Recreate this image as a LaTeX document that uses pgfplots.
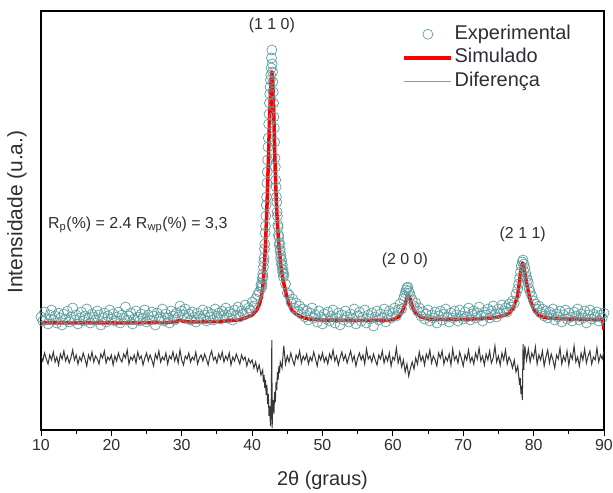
\documentclass[border=0pt]{standalone}
\usepackage{pgfplots}
\pgfplotsset{compat=1.18}
\usepackage{fontspec}
\setmainfont{Liberation Sans}
\definecolor{expc}{RGB}{95,158,160}
\definecolor{diffc}{RGB}{55,55,55}
\definecolor{diffleg}{RGB}{150,150,150}
\definecolor{txtc}{RGB}{45,45,55}
\begin{document}
\begin{tikzpicture}
\begin{axis}[
  at={(0,0)}, anchor=south west,
  scale only axis, width=563bp, height=419bp,
  xmin=10, xmax=90, ymin=0, ymax=419,
  xtick={10,20,...,90}, minor xtick={15,25,...,85},
  ytick=\empty,
  xtick pos=bottom, tick align=outside,
  major tick length=6bp, minor tick length=4bp,
  every tick/.style={black, line width=0.9bp},
  axis line style={line width=1.1bp},
  /pgf/number format/assume math mode=true,
  ticklabel style={font=\fontsize{16}{18}\selectfont, text=txtc},
  every axis x label/.style={at={(axis description cs:0.5,0)}, yshift=-50bp, anchor=center, font=\fontsize{20}{22}\selectfont, text=txtc},
  every axis y label/.style={at={(axis description cs:0,0.52)}, xshift=-24bp, rotate=90, anchor=center, font=\fontsize{21}{23}\selectfont, text=txtc},
  xlabel={2θ (graus)},
  ylabel={Intensidade (u.a.)},
  legend cell align=left,
  legend style={draw=none, fill=none, at={(axis description cs:0.642,0.970)}, anchor=north west,
    font=\fontsize{20}{22}\selectfont, text=txtc, inner sep=0pt, row sep=2.5bp,
    nodes={inner sep=1.5bp, text height=14bp, text depth=4bp}},
  legend image code/.code={\draw[mark repeat=2,mark phase=2,#1] plot coordinates {(0bp,0bp) (23.5bp,0bp) (47bp,0bp)};},
]
\addplot[only marks, mark=o, mark size=5bp, mark options={draw=expc, line width=0.7bp}] table {
x y
10.00 113
10.25 109
10.50 118
10.75 111
11.00 106
11.25 115
11.50 120
11.75 110
12.00 114
12.25 107
12.50 117
12.75 112
13.00 105
13.25 116
13.50 111
13.75 119
14.00 108
14.25 113
14.50 122
14.75 110
15.00 115
15.25 106
15.50 112
15.75 118
16.00 109
16.25 114
16.50 121
16.75 111
17.00 107
17.25 116
17.50 113
17.75 110
18.00 119
18.25 115
18.50 105
18.75 112
19.00 117
19.25 108
19.50 114
19.75 120
20.00 111
20.25 116
20.50 109
20.75 113
21.00 118
21.25 107
21.50 115
21.75 112
22.00 123
22.25 110
22.50 114
22.75 117
23.00 106
23.25 111
23.50 119
23.75 113
24.00 109
24.25 116
24.50 112
24.75 120
25.00 108
25.25 115
25.50 110
25.75 118
26.00 114
26.25 105
26.50 117
26.75 111
27.00 113
27.25 121
27.50 109
27.75 116
28.00 112
28.25 107
28.50 119
28.75 114
29.00 110
29.25 117
29.50 113
29.75 124
30.00 119
30.25 115
30.50 121
30.75 112
31.00 116
31.25 110
31.50 118
31.75 113
32.00 108
32.25 117
32.50 114
32.75 111
33.00 120
33.25 115
33.50 109
33.75 118
34.00 113
34.25 116
34.50 110
34.75 121
35.00 114
35.25 117
35.50 111
35.75 119
36.00 115
36.25 122
36.50 112
36.75 118
37.00 116
37.25 110
37.50 120
37.75 115
38.00 123
38.25 113
38.50 119
38.75 116
39.00 125
39.25 117
39.50 122
39.75 120
40.00 128
40.25 124
40.50 131
40.75 135
41.00 138
41.25 145
41.30 142
41.35 147
41.40 144
41.45 152
41.50 156
41.55 153
41.60 163
41.65 168
41.70 172
41.75 181
41.80 186
41.85 197
41.90 204
41.95 214
42.00 225
42.05 233
42.10 247
42.15 258
42.20 270
42.25 283
42.30 292
42.35 306
42.40 316
42.45 327
42.50 336
42.55 343
42.60 350
42.65 355
42.70 362
42.75 372
42.80 380
42.85 366
42.90 358
42.95 348
43.00 338
43.05 327
43.10 313
43.15 302
43.20 288
43.25 272
43.30 263
43.35 250
43.40 243
43.45 233
43.50 228
43.55 218
43.60 214
43.65 205
43.70 203
43.75 195
43.80 193
43.85 185
43.90 187
43.95 179
44.00 181
44.05 172
44.10 175
44.15 166
44.20 170
44.25 161
44.30 165
44.35 157
44.40 160
44.45 153
44.50 156
44.75 146
45.00 137
45.25 135
45.50 128
45.75 131
46.00 122
46.25 127
46.50 119
46.75 124
47.00 116
47.25 121
47.50 113
47.75 119
48.00 110
48.25 117
48.50 122
48.75 112
49.00 115
49.25 108
49.50 119
49.75 113
50.00 106
50.25 116
50.50 111
50.75 118
51.00 109
51.25 114
51.50 120
51.75 107
52.00 112
52.25 117
52.50 105
52.75 115
53.00 110
53.25 119
53.50 113
53.75 108
54.00 116
54.25 111
54.50 121
54.75 106
55.00 114
55.25 118
55.50 109
55.75 113
56.00 120
56.25 107
56.50 115
56.75 111
57.00 117
57.25 104
57.50 113
57.75 119
58.00 110
58.25 116
58.50 112
58.75 121
59.00 108
59.25 115
59.50 119
59.75 112
60.00 117
60.25 122
60.50 114
60.75 120
61.00 126
61.25 121
61.50 131
61.625 134
61.75 137
61.875 140
62.00 142
62.125 143
62.25 139
62.375 137
62.50 134
62.75 130
63.00 124
63.25 127
63.50 119
63.75 122
64.00 114
64.25 118
64.50 111
64.75 116
65.00 120
65.25 109
65.50 115
65.75 112
66.00 118
66.25 107
66.50 114
66.75 119
67.00 110
67.25 116
67.50 121
67.75 113
68.00 108
68.25 117
68.50 112
68.75 119
69.00 115
69.25 109
69.50 120
69.75 114
70.00 111
70.25 118
70.50 113
70.75 122
71.00 110
71.25 116
71.50 119
71.75 112
72.00 117
72.25 123
72.50 114
72.75 109
73.00 118
73.25 115
73.50 121
73.75 112
74.00 119
74.25 124
74.50 116
74.75 113
75.00 121
75.25 117
75.50 125
75.75 119
76.00 122
76.25 118
76.50 126
76.75 123
77.00 129
77.25 127
77.50 136
77.75 141
77.875 146
78.00 152
78.125 158
78.25 164
78.375 168
78.50 170
78.625 166
78.75 162
78.875 157
79.00 153
79.125 150
79.25 147
79.375 141
79.50 138
79.75 134
80.00 129
80.25 126
80.50 121
80.75 124
81.00 117
81.25 121
81.50 114
81.75 119
82.00 112
82.25 118
82.50 115
82.75 121
83.00 110
83.25 116
83.50 113
83.75 119
84.00 108
84.25 115
84.50 120
84.75 111
85.00 117
85.25 113
85.50 109
85.75 118
86.00 114
86.25 121
86.50 110
86.75 116
87.00 112
87.25 119
87.50 107
87.75 115
88.00 120
88.25 111
88.50 116
88.75 113
89.00 118
89.25 109
89.50 115
89.75 112
90.00 117
};
\addlegendentry{Experimental}
\addplot[red, line width=3.5bp, line join=round] table {
x y
10 107
20 107
28 107.5
29.3 108.5
29.8 110
30.3 108.5
31 108
34 108.3
36 108.8
38 110
39 112
40 115
40.65 120
41.0 125
41.3 133
41.5 142
41.7 160
41.9 185
42.1 222
42.3 267
42.45 305
42.6 335
42.7 350
42.8 358
42.9 352
43.0 335
43.1 310
43.25 267
43.4 235
43.6 205
43.8 185
44.1 163
44.4 150
44.8 137
45.2 127
45.6 120
46.2 116
47 113
48 111
50 110
55 109.5
59 109.5
60 110.5
60.8 113
61.3 118
61.7 125
62.0 132
62.2 135
62.45 131
62.7 125
63.0 120
63.4 116
64 113
65 111
66 110.5
70 110.5
74 112
75 113
76 115
76.5 117
77 121
77.4 127
77.7 134
77.95 146
78.15 158
78.4 167
78.6 163
78.8 155
79.0 147
79.2 140
79.4 133
79.7 126
80.0 121
80.5 116
81 113.5
82 112
85 111
89.8 110.5
90 100
};
\addlegendentry{Simulado}
\addplot[diffc, line width=1bp, forget plot] table {
x y
10.00 74
10.25 69
10.50 77
10.75 71
11.00 66
11.25 75
11.50 70
11.75 78
12.00 68
12.25 73
12.50 65
12.75 76
13.00 71
13.25 79
13.50 69
13.75 74
14.00 67
14.25 72
14.50 80
14.75 70
15.00 75
15.25 66
15.50 73
15.75 69
16.00 77
16.25 71
16.50 64
16.75 75
17.00 70
17.25 78
17.50 68
17.75 74
18.00 71
18.25 66
18.50 76
18.75 72
19.00 79
19.25 67
19.50 73
19.75 70
20.00 75
20.25 65
20.50 74
20.75 69
21.00 77
21.25 71
21.50 68
21.75 76
22.00 72
22.25 80
22.50 66
22.75 73
23.00 70
23.25 75
23.50 67
23.75 78
24.00 71
24.25 74
24.50 65
24.75 72
25.00 77
25.25 69
25.50 75
25.75 70
26.00 64
26.25 76
26.50 71
26.75 79
27.00 68
27.25 73
27.50 70
27.75 77
28.00 66
28.25 74
28.50 71
28.75 78
29.00 69
29.25 75
29.50 67
29.75 80
30.00 70
30.25 65
30.50 74
30.75 71
31.00 77
31.25 68
31.50 73
31.75 70
32.00 78
32.25 66
32.50 72
32.75 75
33.00 69
33.25 76
33.50 71
33.75 65
34.00 74
34.25 79
34.50 70
34.75 73
35.00 67
35.25 76
35.50 71
35.75 78
36.00 68
36.25 74
36.50 70
36.75 77
37.00 65
37.25 73
37.50 69
37.75 76
38.00 71
38.25 66
38.50 75
38.75 70
39.00 73
39.25 64
39.50 71
39.75 67
40.00 70
40.25 62
40.50 68
40.75 59
41.00 65
41.25 55
41.50 60
41.60 48
41.70 55
41.80 42
41.90 50
42.00 35
42.10 45
42.20 26
42.30 36
42.40 14
42.50 24
42.60 4
42.70 18
42.80 90
42.85 2
42.90 20
43.00 30
43.10 16
43.20 38
43.30 28
43.40 48
43.50 40
43.60 58
43.70 50
43.80 64
43.90 57
44.00 68
44.25 62
44.50 84
44.75 66
45.00 74
45.25 68
45.50 77
45.75 70
46.00 65
46.25 75
46.50 71
46.75 79
47.00 67
47.25 74
47.50 70
47.75 76
48.00 66
48.25 73
48.50 69
48.75 78
49.00 71
49.25 64
49.50 75
49.75 70
50.00 77
50.25 68
50.50 73
50.75 66
51.00 76
51.25 71
51.50 80
51.75 69
52.00 74
52.25 65
52.50 72
52.75 78
53.00 70
53.25 75
53.50 67
53.75 73
54.00 79
54.25 69
54.50 74
54.75 64
55.00 72
55.25 77
55.50 70
55.75 75
56.00 66
56.25 81
56.50 71
56.75 74
57.00 68
57.25 76
57.50 70
57.75 65
58.00 75
58.25 71
58.50 79
58.75 67
59.00 74
59.25 69
59.50 77
59.75 64
60.00 73
60.25 70
60.50 82
60.75 67
61.00 74
61.25 63
61.50 70
61.75 58
62.00 66
62.25 54
62.50 62
62.75 68
63.00 61
63.25 72
63.50 66
63.75 78
64.00 69
64.25 74
64.50 65
64.75 76
65.00 71
65.25 80
65.50 67
65.75 74
66.00 70
66.25 64
66.50 77
66.75 72
67.00 79
67.25 66
67.50 73
67.75 69
68.00 76
68.25 65
68.50 81
68.75 70
69.00 74
69.25 67
69.50 78
69.75 71
70.00 64
70.25 75
70.50 70
70.75 80
71.00 68
71.25 73
71.50 66
71.75 77
72.00 71
72.25 82
72.50 69
72.75 74
73.00 65
73.25 76
73.50 70
73.75 79
74.00 67
74.25 72
74.50 84
74.75 68
75.00 74
75.25 65
75.50 77
75.75 70
76.00 80
76.25 66
76.50 73
76.75 69
77.00 62
77.25 70
77.50 58
77.75 64
78.00 45
78.10 52
78.20 36
78.30 44
78.40 30
78.50 86
78.60 60
78.75 84
79.00 70
79.25 81
79.50 68
79.75 77
80.00 72
80.25 83
80.50 66
80.75 75
81.00 70
81.25 79
81.50 64
81.75 73
82.00 80
82.25 67
82.50 76
82.75 70
83.00 62
83.25 75
83.50 71
83.75 82
84.00 66
84.25 74
84.50 69
84.75 79
85.00 65
85.25 76
85.50 71
85.75 84
86.00 68
86.25 73
86.50 64
86.75 77
87.00 70
87.25 81
87.50 67
87.75 74
88.00 79
88.25 66
88.50 73
88.75 70
89.00 82
89.25 68
89.50 75
89.75 71
90.00 79
};
\addlegendimage{diffleg, line width=1.2bp}
\addlegendentry{Diferença}
\node[font=\fontsize{16}{18}\selectfont, text=txtc] at (axis cs:42.8,405) {(1 1 0)};
\node[font=\fontsize{16}{18}\selectfont, text=txtc] at (axis cs:61.7,169.5) {(2 0 0)};
\node[font=\fontsize{16}{18}\selectfont, text=txtc] at (axis cs:78.45,196) {(2 1 1)};
\node[font=\fontsize{16}{18}\selectfont, text=txtc, anchor=west, inner sep=0pt] at (axis cs:11.0,205) {R\textsubscript{p}(\%) = 2.4 R\textsubscript{wp}(\%) = 3,3};
\end{axis}
\pgfresetboundingbox
\path (-41bp,-63bp) rectangle (572bp,430bp);
\end{tikzpicture}
\end{document}
